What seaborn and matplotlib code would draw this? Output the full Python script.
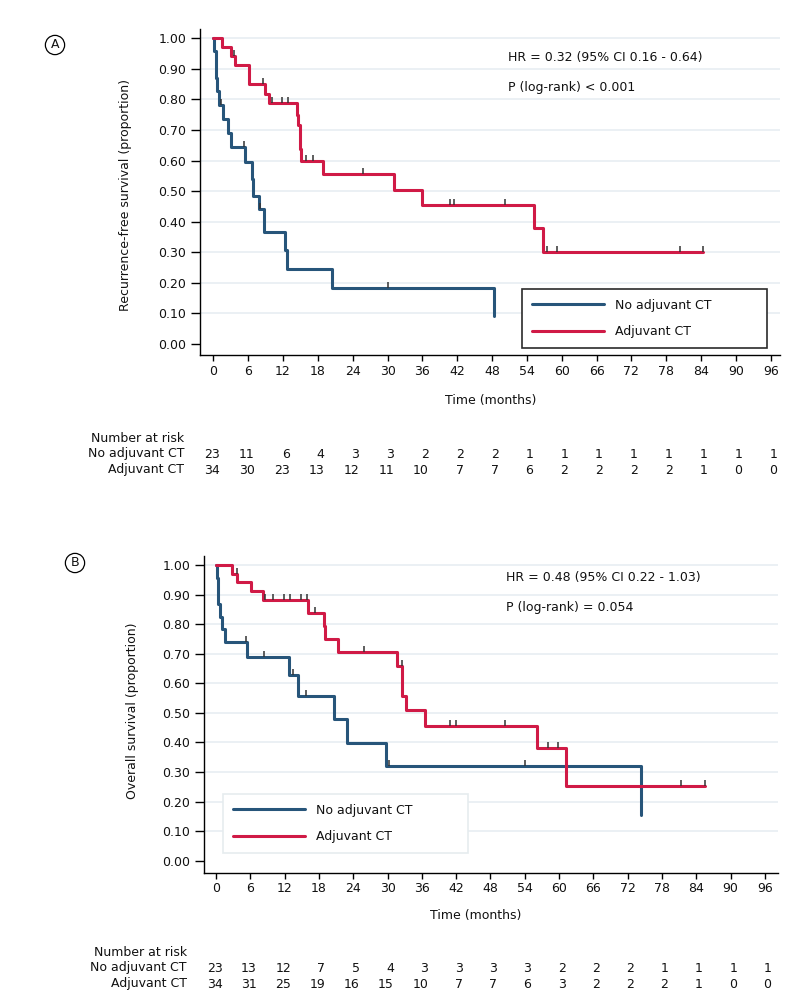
import numpy as np
import matplotlib.pyplot as plt
import matplotlib.transforms as mtransforms
import seaborn as sns

sns.set_theme(style="white")
plt.rcParams['font.family'] = ['DejaVu Sans']

# ---- data ----
groups = ['No adjuvant CT', 'Adjuvant CT']
month_ticks = list(range(0, 97, 6))

# A: recurrence-free survival
rfs_noadj_t = [0, 0.1, 0.4, 0.7, 1.05, 1.7, 2.6, 3.0, 5.5, 6.7, 6.9, 7.9, 8.7, 12.4, 12.6, 20.4, 48.4]
rfs_noadj_s = [1.0, 0.957, 0.870, 0.826, 0.783, 0.737, 0.691, 0.645, 0.595, 0.538, 0.484, 0.441, 0.367, 0.306, 0.244, 0.183, 0.090]
rfs_noadj_cens = [1.3, 5.3, 8.1, 30.0]
rfs_adj_t = [0, 1.55, 3.0, 3.7, 6.15, 8.9, 9.5, 14.4, 14.55, 14.95, 15.1, 18.8, 31.1, 36.0, 55.3, 56.7, 84.4]
rfs_adj_s = [1.0, 0.971, 0.941, 0.911, 0.850, 0.819, 0.787, 0.750, 0.716, 0.639, 0.600, 0.556, 0.504, 0.454, 0.378, 0.302, 0.302]
rfs_adj_cens = [3.6, 8.6, 10.05, 11.8, 12.9, 16.0, 17.2, 25.7, 40.8, 41.5, 50.2, 57.4, 59.2, 80.4, 84.4]
rfs_risk_noadj = [23, 11, 6, 4, 3, 3, 2, 2, 2, 1, 1, 1, 1, 1, 1, 1, 1]
rfs_risk_adj = [34, 30, 23, 13, 12, 11, 10, 7, 7, 6, 2, 2, 2, 2, 1, 0, 0]

# B: overall survival
os_noadj_t = [0, 0.1, 0.3, 0.7, 1.1, 1.6, 5.4, 12.8, 14.4, 20.6, 22.9, 29.8, 74.3]
os_noadj_s = [1.0, 0.957, 0.870, 0.826, 0.783, 0.739, 0.690, 0.628, 0.556, 0.478, 0.398, 0.319, 0.156]
os_noadj_cens = [5.2, 8.4, 13.5, 15.7, 30.3, 54.1]
os_adj_t = [0, 2.85, 3.7, 6.1, 8.15, 16.1, 18.9, 19.05, 21.4, 31.6, 32.6, 33.2, 36.6, 56.1, 61.3, 85.5]
os_adj_s = [1.0, 0.971, 0.942, 0.912, 0.882, 0.839, 0.794, 0.750, 0.706, 0.659, 0.556, 0.509, 0.456, 0.381, 0.252, 0.252]
os_adj_cens = [3.6, 8.6, 10.0, 11.95, 12.9, 14.8, 15.96, 17.3, 25.9, 32.5, 40.9, 41.9, 50.6, 58.0, 59.8, 81.4, 85.5]
os_risk_noadj = [23, 13, 12, 7, 5, 4, 3, 3, 3, 3, 2, 2, 2, 1, 1, 1, 1]
os_risk_adj = [34, 31, 25, 19, 16, 15, 10, 7, 7, 6, 3, 2, 2, 2, 1, 0, 0]

colors = ['#27557a', '#d01a46']
txt = '#111111'
FS = 9
W, H = 799, 1000


def px(x, y):
    return x / W, 1 - y / H


def step_at(t_ev, s_ev, t):
    idx = np.searchsorted(t_ev, t, side='right') - 1
    return np.asarray(s_ev)[idx]


def draw_panel(ax, curves, cens, xlim, ylim):
    for (t, s), c_t, col, lab in zip(curves, cens, colors, groups):
        sns.lineplot(x=t, y=s, ax=ax, color=col, lw=2.2, drawstyle='steps-post',
                     estimator=None, sort=False, label=lab)
        ax.plot(c_t, step_at(t, s, c_t), ls='none', marker=2, ms=4.5,
                mew=1.1, color='#333333', zorder=4)
    ax.set_xlim(*xlim)
    ax.set_ylim(*ylim)
    ax.set_xticks(month_ticks)
    ax.set_yticks(np.round(np.arange(0, 1.01, 0.1), 1))
    ax.set_yticklabels([f'{v:.2f}' for v in np.arange(0, 1.01, 0.1)])
    ax.grid(axis='y', color='#e9eff3', lw=1.3)
    ax.get_ygridlines()[0].set_visible(False)
    ax.set_axisbelow(True)
    for sp in ['top', 'right']:
        ax.spines[sp].set_visible(False)
    for sp in ['left', 'bottom']:
        ax.spines[sp].set_color('black')
        ax.spines[sp].set_linewidth(1.0)
    ax.tick_params(axis='x', direction='out', length=4, width=1, color='black',
                   labelsize=FS, labelcolor=txt, pad=3, bottom=True)
    ax.tick_params(axis='y', direction='out', length=6.5, width=1, color='black',
                   labelsize=FS, labelcolor=txt, pad=3.5, left=True)


def risk_table(fig, ax, y_rows, label_x, risk_rows):
    trans = mtransforms.blended_transform_factory(ax.transData, fig.transFigure)
    trans = trans + mtransforms.ScaledTranslation(6.5 / 100, 0, fig.dpi_scale_trans)
    fig.text(*px(label_x, y_rows[0]), 'Number at risk', ha='right', va='center',
             fontsize=FS, color=txt)
    for row_y, lab, vals in zip(y_rows[1:], groups, risk_rows):
        fig.text(*px(label_x, row_y), lab, ha='right', va='center', fontsize=FS, color=txt)
        for t, v in zip(month_ticks, vals):
            ax.text(t, 1 - row_y / H, str(v), transform=trans, ha='right',
                    va='center', fontsize=FS, color=txt)


fig = plt.figure(figsize=(W / 100, H / 100), dpi=100)

# panel A
axA = fig.add_axes([200 / W, 1 - 355 / H, 580 / W, 326 / H])
draw_panel(axA, [(rfs_noadj_t, rfs_noadj_s), (rfs_adj_t, rfs_adj_s)],
           [rfs_noadj_cens, rfs_adj_cens], (-2.3, 97.6), (-0.036, 1.03))
axA.set_ylabel('Recurrence-free survival (proportion)', fontsize=FS, color=txt)
axA.yaxis.set_label_coords(-0.118, 0.49)
axA.set_xlabel('Time (months)', fontsize=FS, color=txt)
axA.xaxis.set_label_coords(0.502, -0.12)
legA = axA.legend(loc='lower left', bbox_to_anchor=(0.5547, 0.0206, 0.4234, 0.192),
                  mode='expand', borderaxespad=0, borderpad=0.8, labelspacing=1.08,
                  handlelength=5.8, handletextpad=0.9, fancybox=False,
                  edgecolor='#2b2b2b', framealpha=1, fontsize=FS)
legA.get_frame().set_linewidth(1.2)
for t in legA.get_texts():
    t.set_color(txt)
axA.text(*px(508, 57), 'HR = 0.32 (95% CI 0.16 - 0.64)', transform=fig.transFigure,
         ha='left', va='center', fontsize=FS, color=txt)
axA.text(*px(508, 88), 'P (log-rank) < 0.001', transform=fig.transFigure,
         ha='left', va='center', fontsize=FS, color=txt)
fig.text(*px(55, 45), 'A', ha='center', va='center', fontsize=FS, color=txt,
         bbox=dict(boxstyle='circle,pad=0.25', fc='white', ec='black', lw=0.9))
risk_table(fig, axA, [438, 454, 470], 184, [rfs_risk_noadj, rfs_risk_adj])

# panel B
axB = fig.add_axes([204 / W, 1 - 872.7 / H, 574 / W, 316.7 / H])
draw_panel(axB, [(os_noadj_t, os_noadj_s), (os_adj_t, os_adj_s)],
           [os_noadj_cens, os_adj_cens], (-2.1, 98.3), (-0.041, 1.031))
axB.set_ylabel('Overall survival (proportion)', fontsize=FS, color=txt)
axB.yaxis.set_label_coords(-0.114, 0.51)
axB.set_xlabel('Time (months)', fontsize=FS, color=txt)
axB.xaxis.set_label_coords(0.474, -0.115)
legB = axB.legend(loc='lower left', bbox_to_anchor=(0.0326, 0.0622, 0.4274, 0.202),
                  mode='expand', borderaxespad=0, borderpad=0.8, labelspacing=1.08,
                  handlelength=5.8, handletextpad=0.9, fancybox=False,
                  edgecolor='#e6ecef', framealpha=1, fontsize=FS)
legB.get_frame().set_linewidth(1.2)
for t in legB.get_texts():
    t.set_color(txt)
axB.text(*px(506, 578), 'HR = 0.48 (95% CI 0.22 - 1.03)', transform=fig.transFigure,
         ha='left', va='center', fontsize=FS, color=txt)
axB.text(*px(506, 607), 'P (log-rank) = 0.054', transform=fig.transFigure,
         ha='left', va='center', fontsize=FS, color=txt)
fig.text(*px(75, 563), 'B', ha='center', va='center', fontsize=FS, color=txt,
         bbox=dict(boxstyle='circle,pad=0.25', fc='white', ec='black', lw=0.9))
risk_table(fig, axB, [952, 968, 984], 187, [os_risk_noadj, os_risk_adj])

fig.savefig('out.png', dpi=100, facecolor='white')
